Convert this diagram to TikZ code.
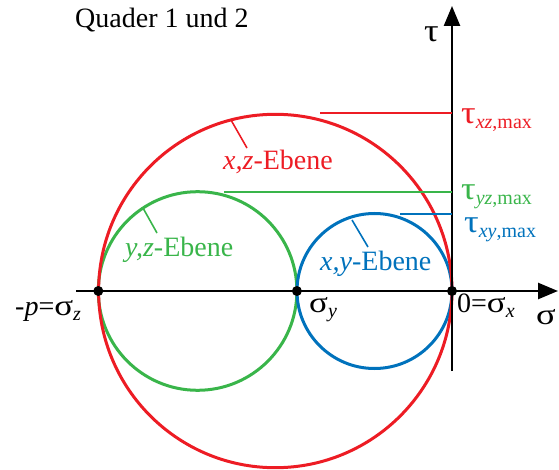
\documentclass[tikz,border=0pt]{standalone}
\usepackage{fontspec}
\usepackage{graphicx}
\setmainfont{Liberation Serif}
\usetikzlibrary{arrows.meta}
\definecolor{cred}{RGB}{237,28,36}
\definecolor{cgreen}{RGB}{57,181,74}
\definecolor{cblue}{RGB}{0,114,188}
\newcommand\lowsub[1]{\raisebox{-5pt}{\fontsize{20}{22}\selectfont #1}}
\newcommand\gtau{\scalebox{1.3}[1.15]{τ}}
\newcommand\gsig{\scalebox{1.25}[1.05]{σ}}
\begin{document}
\begin{tikzpicture}[x=1pt,y=-1pt,font=\fontsize{28}{32}\selectfont,
  circ/.style={line width=3pt},
  axisline/.style={line width=2.5pt,-{Triangle[length=20pt,width=16pt]}},
  leader/.style={line width=1.6pt},
  dot/.style={circle,fill=black,inner sep=0pt,minimum size=10pt},
  lbl/.style={inner sep=0pt,anchor=base west}]
\useasboundingbox (0,0) rectangle (559,470);
% circles
\draw[circ,cgreen] (197.6,291) circle [radius=99.3pt];
\draw[circ,cblue] (374.5,291) circle [radius=77.5pt];
\draw[circ,cred] (275.3,291) circle [radius=176.7pt];
% axes
\coordinate (hstart) at (76,291);
\coordinate (hend) at (558,291);
\coordinate (vstart) at (452,371);
\coordinate (vend) at (452,6);
\draw[axisline] (hstart) -- (hend);
\draw[axisline] (vstart) -- (vend);
% dots
\node[dot] (dz) at (98.3,291) {};
\node[dot] (dy) at (296.9,291) {};
\node[dot] (dx) at (452,291) {};
% tau max leaders
\coordinate (rl1) at (320,113);
\coordinate (rl2) at (452,113);
\coordinate (gl1) at (224,192);
\coordinate (gl2) at (452,192);
\coordinate (bl1) at (400,214);
\coordinate (bl2) at (452,214);
\draw[leader,cred] (rl1) -- (rl2);
\draw[leader,cgreen] (gl1) -- (gl2);
\draw[leader,cblue] (bl1) -- (bl2);
% plane labels
\node[lbl,text=cred] (xz) at (223,170) {\textit{x,z}-Ebene};
\node[lbl,text=cgreen] (yz) at (125,257) {\textit{y,z}-Ebene};
\node[lbl,text=cblue] (xy) at (320,270) {\textit{x,y}-Ebene};
\coordinate (rp1) at (231,120);
\coordinate (rp2) at (247,148);
\coordinate (gp1) at (143,208);
\coordinate (gp2) at (157,233);
\coordinate (bp1) at (352,220);
\coordinate (bp2) at (368,247);
\draw[leader,cred] (rp1) -- (rp2);
\draw[leader,cgreen] (gp1) -- (gp2);
\draw[leader,cblue] (bp1) -- (bp2);
% tau labels
\node[lbl,text=cred] (txz) at (461,124) {\gtau\lowsub{\textit{xz},max}};
\node[lbl,text=cgreen] (tyz) at (461,200) {\gtau\lowsub{\textit{yz},max}};
\node[lbl,text=cblue] (txy) at (464,233) {\gtau\lowsub{\textit{xy},max}};
% axis labels
\node[lbl] (tau) at (424,42) {\gtau};
\node[lbl] (sig) at (536,324) {\scalebox{1.3}[1.05]{σ}};
\node[lbl] (sx) at (457,312) {0=\gsig\lowsub{\textit{x}}};
\node[lbl] (sy) at (309,312) {\gsig\lowsub{\textit{y}}};
\node[lbl] (sz) at (15,315) {-\textit{p}=\gsig\lowsub{\textit{z}}};
\node[lbl] (title) at (75,28) {Quader 1 und 2};
\end{tikzpicture}
\end{document}
